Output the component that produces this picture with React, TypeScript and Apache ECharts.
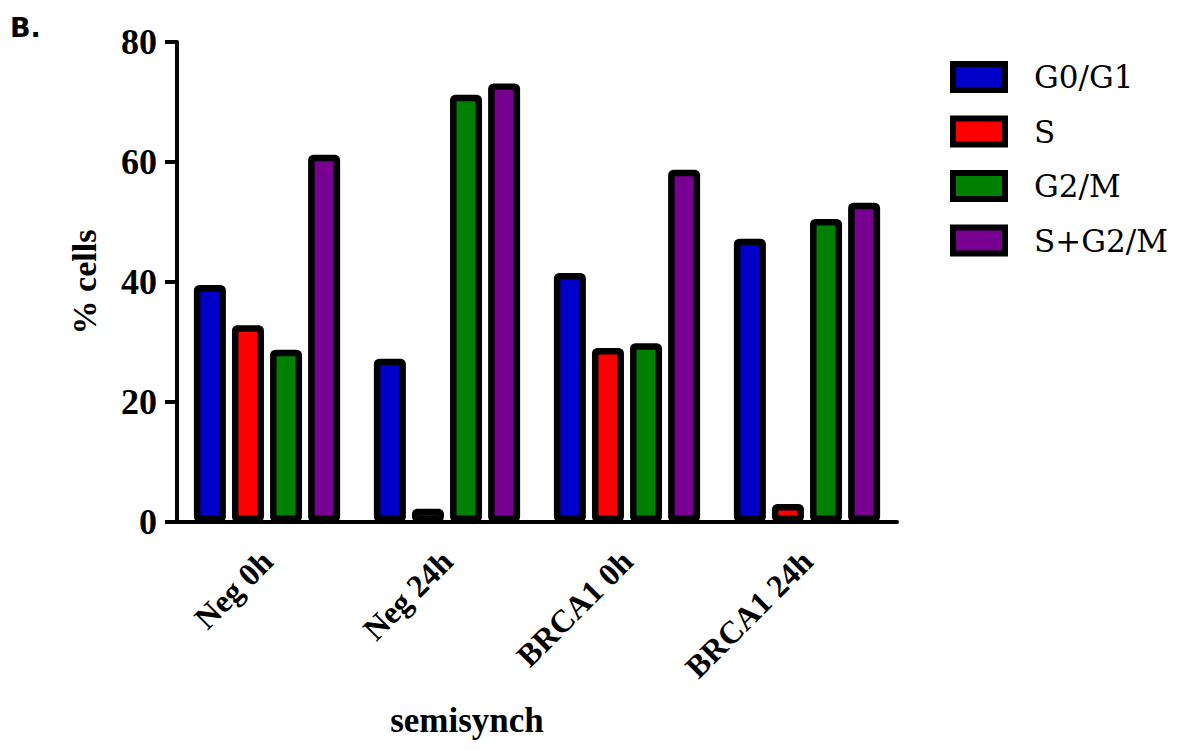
import React, { useEffect, useRef } from "react";
import * as echarts from "echarts";

const categories = ["Neg 0h", "Neg 24h", "BRCA1 0h", "BRCA1 24h"];
const seriesNames = ["G0/G1", "S", "G2/M", "S+G2/M"];
const g0g1 = [39.5, 27.2, 41.5, 47.2];
const sPhase = [32.8, 2.2, 29.0, 3.0];
const g2m = [28.7, 71.2, 29.8, 50.5];
const sg2m = [61.2, 73.1, 58.7, 53.2];
const colors = ["#0000c8", "#ff0000", "#008000", "#780090"];
const yTicks = { min: 0, max: 80, interval: 20 };

export default function App() {
  const ref = useRef<HTMLDivElement>(null);
  useEffect(() => {
    if (!ref.current) return;
    const chart = echarts.init(ref.current, null, { renderer: "svg" });
    const values = [g0g1, sPhase, g2m, sg2m];
    const serif = "'Liberation Serif', 'Times New Roman', serif";
    chart.setOption({
      animation: false,
      backgroundColor: "#ffffff",
      grid: { left: 177, top: 42, width: 720, height: 480, containLabel: false },
      legend: {
        left: 945,
        top: 56,
        orient: "vertical",
        itemWidth: 52,
        itemHeight: 26,
        itemGap: 22.5,
        icon: "rect",
        itemStyle: { borderColor: "#000", borderWidth: 6 },
        textStyle: {
          fontFamily: "'DejaVu Serif', serif",
          fontSize: 31,
          color: "#000",
          lineHeight: 32,
          padding: [0, 0, 0, 24],
        },
        data: seriesNames,
      },
      xAxis: {
        type: "category",
        data: categories,
        axisLine: { lineStyle: { color: "#000", width: 4 } },
        axisTick: { alignWithLabel: true, length: 15, lineStyle: { color: "#000", width: 4 } },
        axisLabel: {
          rotate: 45,
          margin: 34,
          fontFamily: serif,
          fontWeight: "bold",
          fontSize: 32,
          color: "#000",
        },
      },
      yAxis: {
        type: "value",
        min: yTicks.min,
        max: yTicks.max,
        interval: yTicks.interval,
        name: "% cells",
        nameLocation: "middle",
        nameGap: 76,
        nameTextStyle: { fontFamily: serif, fontWeight: "bold", fontSize: 34, color: "#000" },
        splitLine: { show: false },
        axisLine: { show: true, lineStyle: { color: "#000", width: 4 } },
        axisTick: { show: true, length: 12, lineStyle: { color: "#000", width: 4 } },
        axisLabel: {
          margin: 20,
          fontFamily: serif,
          fontWeight: "bold",
          fontSize: 36,
          color: "#000",
        },
      },
      graphic: [
        {
          type: "text",
          left: 10,
          top: 14,
          style: {
            text: "B.",
            fontFamily: "'DejaVu Sans', sans-serif",
            fontWeight: 900,
            fontSize: 27,
            fill: "#000",
          },
        },
        {
          type: "text",
          x: 467,
          y: 720,
          style: {
            text: "semisynch",
            fontFamily: serif,
            fontWeight: "bold",
            fontSize: 35,
            fill: "#000",
            align: "center",
            verticalAlign: "middle",
          },
        },
      ],
      series: seriesNames.map((name, i) => ({
        name,
        type: "bar",
        data: values[i],
        barWidth: 32,
        barGap: "19%",
        itemStyle: {
          color: colors[i],
          borderColor: "#000",
          borderWidth: 6.5,
          borderRadius: 2,
        },
      })),
    });
    return () => chart.dispose();
  }, []);
  return <div ref={ref} style={{ width: 1185, height: 750, margin: -8 }} />;
}
